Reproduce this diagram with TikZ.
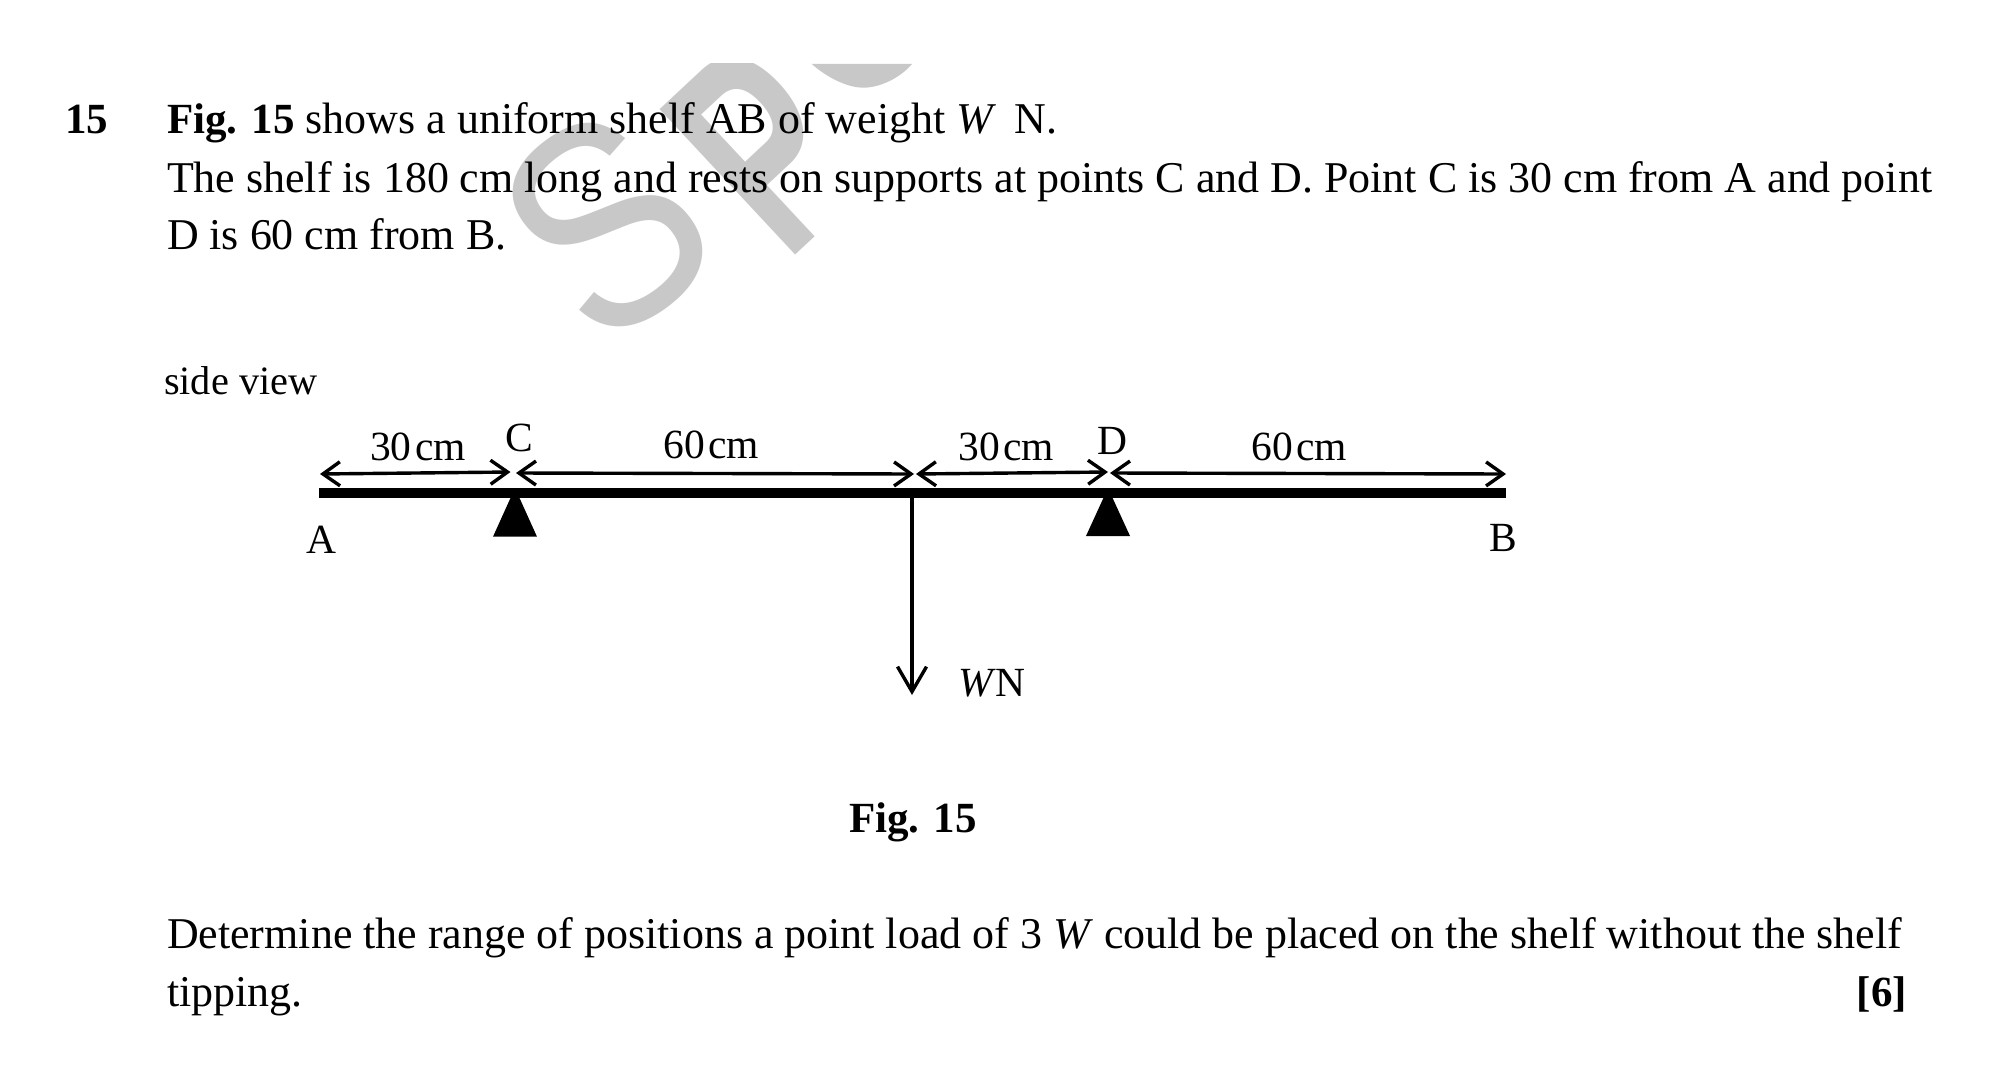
\documentclass[tikz,border=0pt]{standalone}
\usepackage{fontspec}
\setmainfont{Liberation Serif}
\newfontfamily\wmfont{Liberation Sans}
\usetikzlibrary{arrows.meta}
\tikzset{
  txt/.style={anchor=base west,inner sep=0pt,outer sep=0pt,font=\fontsize{43.95}{50}\selectfont},
  boldtxt/.style={txt,font=\fontsize{43}{50}\selectfont\bfseries},
  lab/.style={anchor=base,inner sep=0pt,outer sep=0pt,font=\fontsize{41.5}{46}\selectfont},
  wm/.style={inner sep=0pt,outer sep=0pt,text=wmgray,font=\wmfont\fontsize{258}{258}\selectfont},
  dimline/.style={line width=3.4pt,{Straight Barb[length=17pt,width=24pt,line width=3.4pt]}-{Straight Barb[length=17pt,width=24pt,line width=3.4pt]}},
  loadline/.style={line width=3.2pt,-{Straight Barb[length=25pt,width=29pt,line width=3.4pt]}},
  shelfbar/.style={line width=9.5pt},
  support/.style={fill=black,draw=none}
}
\definecolor{wmgray}{HTML}{C8C8C8}
\newcommand{\thsp}{\kern0.08em}
\begin{document}
\begin{tikzpicture}[x=1pt,y=-1pt]
\useasboundingbox (0,0) rectangle (2001,1073);
\fill[white] (0,0) rectangle (2001,1073);
% watermark
\begin{scope}
\clip (0,64) rectangle (2001,1073);
\node[wm,rotate=37] (wmS) at (606,225) {\scalebox{0.97}[1.13]{S}};
\node[wm,rotate=43,anchor=base west,font=\wmfont\bfseries\fontsize{258}{258}\selectfont] (wmP) at (786.5,263.5) {\scalebox{0.72}[1.12]{P}};
\fill[wmgray] (811.7,64) .. controls (830,80) and (850,87.7) .. (863,87.7) .. controls (880,87.7) and (900,78) .. (912,64) -- cycle;
\end{scope}
% question text
\node[boldtxt] (qnum) at (65,133) {15};
\node[txt] (l1) at (167,133) {\textbf{\fontsize{43}{50}\selectfont Fig. 15} shows a uniform shelf AB of weight \textit{W}\, N.};
\node[txt] (l2) at (167,192) {The shelf is 180 cm long and rests on supports at points C and D. Point C is 30 cm from A and point};
\node[txt] (l3) at (167,249) {D is 60 cm from B.};
\node[txt,font=\fontsize{40.3}{46}\selectfont] (side) at (164,394) {side view};
% shelf
\coordinate (A) at (319,493);
\coordinate (B) at (1506,493);
\draw[shelfbar] (A) -- (B);
% supports
\fill[support] (515,488) -- (537,536.7) -- (493,536.7) -- cycle;
\fill[support] (1108,488) -- (1130,536) -- (1086,536) -- cycle;
% dimension arrows
\coordinate (d0) at (320,474);
\coordinate (d1a) at (510.5,472);
\coordinate (d1b) at (516,473);
\coordinate (d2a) at (914,474);
\coordinate (d2b) at (916,474);
\coordinate (d3a) at (1108,472);
\coordinate (d3b) at (1110,473);
\coordinate (d4) at (1506,474);
\draw[dimline] (d0) -- (d1a);
\draw[dimline] (d1b) -- (d2a);
\draw[dimline] (d2b) -- (d3a);
\draw[dimline] (d3b) -- (d4);
% load
\coordinate (L0) at (912,497);
\coordinate (L1) at (912,695);
\draw[loadline] (L0) -- (L1);
% labels
\node[lab] (t1) at (418,460.5) {30\thsp cm};
\node[lab] (t2) at (711,458.5) {60\thsp cm};
\node[lab] (t3) at (1006,460.5) {30\thsp cm};
\node[lab] (t4) at (1299,460.5) {60\thsp cm};
\node[lab] (nC) at (519,451) {C};
\node[lab] (nD) at (1112,454) {D};
\node[lab] (nA) at (321,553) {A};
\node[lab] (nB) at (1503,551) {B};
\node[lab,anchor=base west] (wn) at (958,696) {\textit{W}N};
\node[boldtxt,anchor=base] (figcap) at (913,832) {Fig. 15};
% question
\node[txt] (q1) at (167,948) {Determine the range of positions a point load of 3 \textit{W} could be placed on the shelf without the shelf};
\node[txt] (q2) at (167,1006) {tipping.};
\node[boldtxt,anchor=base east] (mark) at (1907,1006) {[6]};
\end{tikzpicture}
\end{document}
